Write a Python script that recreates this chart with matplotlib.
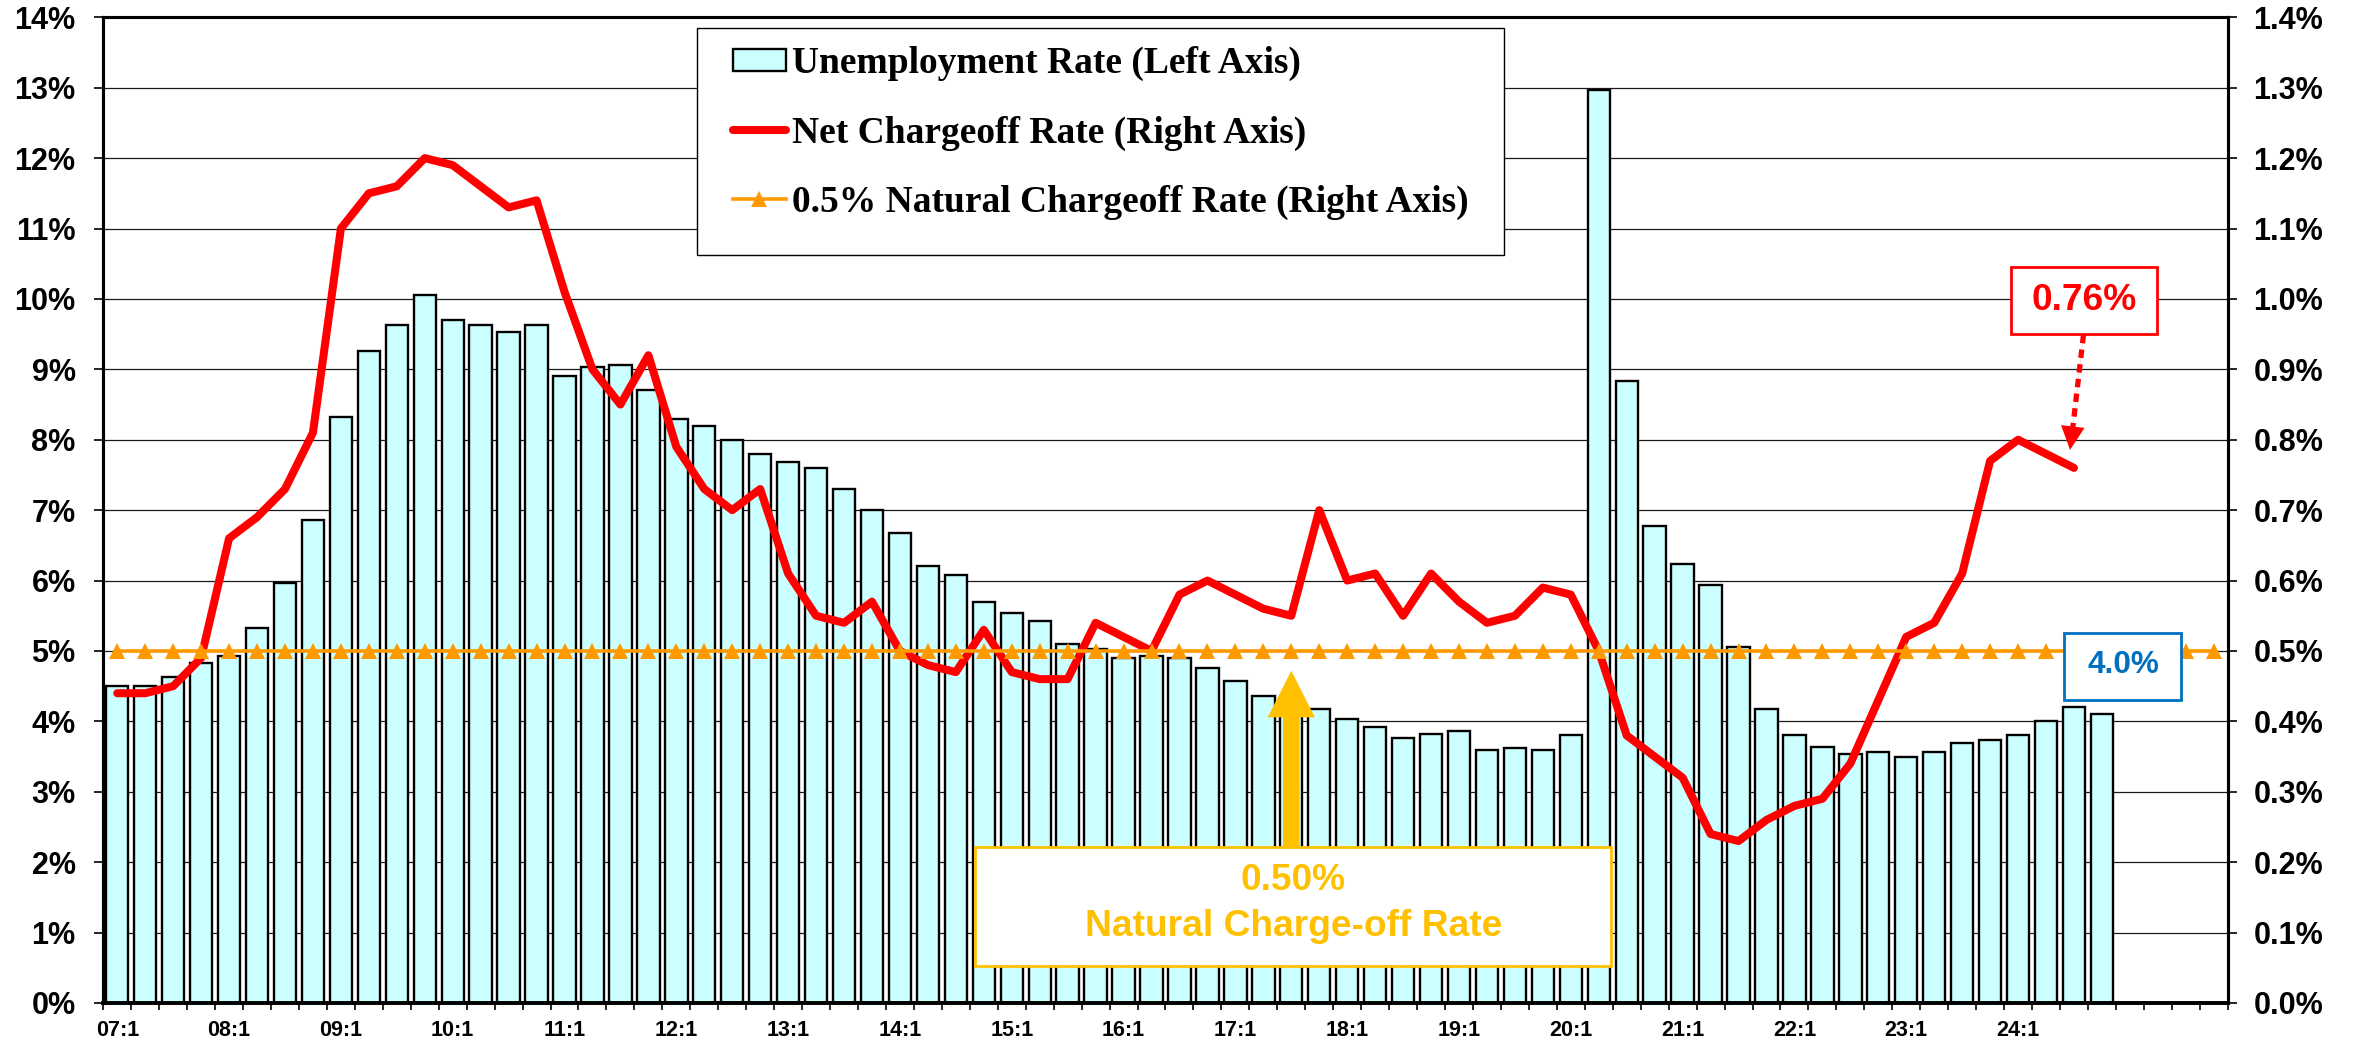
import matplotlib
matplotlib.use("Agg")
import matplotlib.pyplot as plt
from matplotlib.patches import Rectangle, Patch, ArrowStyle
from matplotlib.lines import Line2D
from matplotlib.font_manager import FontProperties

plt.rcParams['font.family'] = ['Liberation Sans', 'DejaVu Sans']
plt.rcParams['font.weight'] = 'bold'

# ---------------- data ----------------
years = ["07", "08", "09", "10", "11", "12", "13", "14", "15", "16",
         "17", "18", "19", "20", "21", "22", "23", "24", "25"]
categories = [f"{y}:{q}" for y in years for q in (1, 2, 3, 4)]   # 76 quarter slots

tick_labels = ["07:1", "08:1", "09:1", "10:1", "11:1", "12:1", "13:1", "14:1", "15:1",
               "16:1", "17:1", "18:1", "19:1", "20:1", "21:1", "22:1", "23:1", "24:1"]

# Unemployment rate (%), 07:1 .. 24:4  (left axis)
unemployment = [
    4.50, 4.50, 4.63, 4.83,
    4.93, 5.33, 5.96, 6.86,
    8.33, 9.26, 9.63, 10.06,
    9.70, 9.63, 9.53, 9.63,
    8.90, 9.03, 9.06, 8.70,
    8.30, 8.20, 8.00, 7.80,
    7.69, 7.60, 7.30, 7.00,
    6.67, 6.21, 6.08, 5.70,
    5.54, 5.43, 5.10, 5.03,
    4.90, 4.93, 4.90, 4.76,
    4.57, 4.36, 4.27, 4.17,
    4.03, 3.92, 3.76, 3.82,
    3.86, 3.60, 3.62, 3.60,
    3.80, 12.97, 8.84, 6.77,
    6.23, 5.93, 5.06, 4.17,
    3.80, 3.63, 3.53, 3.56,
    3.49, 3.56, 3.69, 3.73,
    3.80, 4.00, 4.20, 4.10,
]

# Net charge-off rate (%), 07:1 .. 24:3  (right axis)
chargeoff = [
    0.44, 0.44, 0.45, 0.49,
    0.66, 0.69, 0.73, 0.81,
    1.10, 1.15, 1.16, 1.20,
    1.19, 1.16, 1.13, 1.14,
    1.01, 0.90, 0.85, 0.92,
    0.79, 0.73, 0.70, 0.73,
    0.61, 0.55, 0.54, 0.57,
    0.50, 0.48, 0.47, 0.53,
    0.47, 0.46, 0.46, 0.54,
    0.52, 0.50, 0.58, 0.60,
    0.58, 0.56, 0.55, 0.70,
    0.60, 0.61, 0.55, 0.61,
    0.57, 0.54, 0.55, 0.59,
    0.58, 0.50, 0.38, 0.35,
    0.32, 0.24, 0.23, 0.26,
    0.28, 0.29, 0.34, 0.43,
    0.52, 0.54, 0.61, 0.77,
    0.80, 0.78, 0.76,
]

# 0.5% natural charge-off rate, every quarter slot (right axis)
natural_rate = [0.50] * len(categories)

legend_labels = ["Unemployment Rate (Left Axis)",
                 "Net Chargeoff Rate (Right Axis)",
                 "0.5% Natural Chargeoff Rate (Right Axis)"]

left_ticks = list(range(0, 15))
right_ticks = [v / 10 for v in range(0, 15)]

# ---------------- styling ----------------
BAR_COLOR = '#CCFFFF'
RED = '#FF0000'
ORANGE = '#FF9900'
GOLD = '#FFC000'
BLUE = '#0070C0'

W, H, DPI = 2361, 1044, 100
fig = plt.figure(figsize=(W / DPI, H / DPI), dpi=DPI)
L, R, T, B = 103.3, 2227.7, 17.3, 1003.0
ax = fig.add_axes([L / W, 1 - B / H, (R - L) / W, (B - T) / H])
ax2 = ax.twinx()

n = len(categories)
xs_bar = list(range(len(unemployment)))
xs_co = list(range(len(chargeoff)))
xs_all = list(range(n))

ax.bar(xs_bar, unemployment, width=0.8, color=BAR_COLOR, edgecolor='black',
       linewidth=1.7, zorder=2)
ax.set_xlim(-0.5, n - 0.5)
ax.set_ylim(0, 14)
ax.set_yticks(left_ticks)
ax.set_yticklabels([f"{v}%" for v in left_ticks])
ax.yaxis.grid(True, color='#1a1a1a', linewidth=0.9)
ax.set_axisbelow(True)

ax.set_xticks([categories.index(t) for t in tick_labels])
ax.set_xticklabels(tick_labels)
ax.set_xticks([i - 0.5 for i in range(n + 1)], minor=True)
ax.tick_params(axis='x', which='major', length=0, pad=12, labelsize=15.5)
ax.tick_params(axis='x', which='minor', length=5, width=1.2, direction='out')
ax.tick_params(axis='y', direction='out', length=6.5, width=1.2, pad=13.5, labelsize=22)

ax2.plot(xs_co, chargeoff, color=RED, lw=5.8, solid_joinstyle='round',
         solid_capstyle='round', zorder=3)
ax2.plot(xs_all, natural_rate, color=ORANGE, lw=2.6, marker='^', markersize=11.5,
         markeredgewidth=0, zorder=4)
ax2.set_xlim(-0.5, n - 0.5)
ax2.set_ylim(0, 1.4)
ax2.set_yticks(right_ticks)
ax2.set_yticklabels([f"{v:.1f}%" for v in right_ticks])
ax2.tick_params(axis='y', direction='out', length=6.5, width=1.2, pad=12, labelsize=22)

for a in (ax, ax2):
    for s in a.spines.values():
        s.set_linewidth(2.2)
        s.set_color('black')
    a.spines['bottom'].set_linewidth(2.6)

# ---------------- annotations ----------------
# gold "natural charge-off" box and arrow
ax2.add_patch(Rectangle((30.69, 0.0526), 53.44 - 30.69, 0.2212 - 0.0526,
                        facecolor='white', edgecolor=GOLD, lw=2, zorder=6))
ax2.text(42.07, 0.1733, "0.50%", color=GOLD, fontsize=26.7, ha='center', va='center', zorder=7)
ax2.text(42.07, 0.108, "Natural Charge-off Rate", color=GOLD, fontsize=26.7,
         ha='center', va='center', zorder=7)
ax2.annotate('', xy=(42, 0.472), xytext=(42, 0.2212),
             arrowprops=dict(arrowstyle=ArrowStyle.Simple(head_length=3.36, head_width=3.4,
                                                          tail_width=1.2),
                             mutation_scale=10, color=GOLD, lw=0, shrinkA=0, shrinkB=0),
             zorder=6)

# red 0.76% box and dotted arrow
ax2.add_patch(Rectangle((67.74, 0.950), 72.97 - 67.74, 1.045 - 0.950,
                        facecolor='white', edgecolor=RED, lw=2, zorder=6))
ax2.text(70.37, 0.998, "0.76%", color=RED, fontsize=26.7, ha='center', va='center', zorder=7)
ax2.plot([70.34, 69.96], [0.949, 0.818], color=RED, lw=3.8,
         linestyle=(0, (1.6, 1.2)), solid_capstyle='butt', zorder=6)
ax2.annotate('', xy=(69.86, 0.7855), xytext=(70.34, 0.949),
             arrowprops=dict(arrowstyle=ArrowStyle.Simple(head_length=1.7, head_width=1.7,
                                                          tail_width=0.01),
                             mutation_scale=10, color=RED, lw=0, shrinkA=0, shrinkB=0),
             zorder=6)

# blue 4.0% box
ax2.add_patch(Rectangle((69.63, 0.430), 73.84 - 69.63, 0.525 - 0.430,
                        facecolor='white', edgecolor=BLUE, lw=2, zorder=6))
ax2.text(71.78, 0.480, "4.0%", color=BLUE, fontsize=22.7, ha='center', va='center', zorder=7)

# ---------------- legend ----------------
handles = [Patch(facecolor=BAR_COLOR, edgecolor='black', linewidth=1.7),
           Line2D([], [], color=RED, lw=5.8, solid_capstyle='round'),
           Line2D([], [], color=ORANGE, lw=2.6, marker='^', markersize=11.5, markeredgewidth=0)]
frame = Rectangle((696.7 / W, 1 - 255 / H), (1503.5 - 696.7) / W, (255 - 28.3) / H,
                  transform=fig.transFigure, facecolor='white', edgecolor='black',
                  lw=1.0, zorder=7, clip_on=False)
ax2.add_patch(frame)
leg = ax2.legend(handles, legend_labels, loc='upper left',
                 bbox_to_anchor=(733 / W, 1 - 46.25 / H), bbox_transform=fig.transFigure,
                 frameon=False, borderpad=0, borderaxespad=0, handlelength=1.41,
                 handleheight=0.52, handletextpad=0.15, labelspacing=0.907, numpoints=1,
                 prop=FontProperties(family='Liberation Serif', weight='bold', size=27))
leg.set_zorder(8)

fig.savefig("out.png", dpi=DPI)
